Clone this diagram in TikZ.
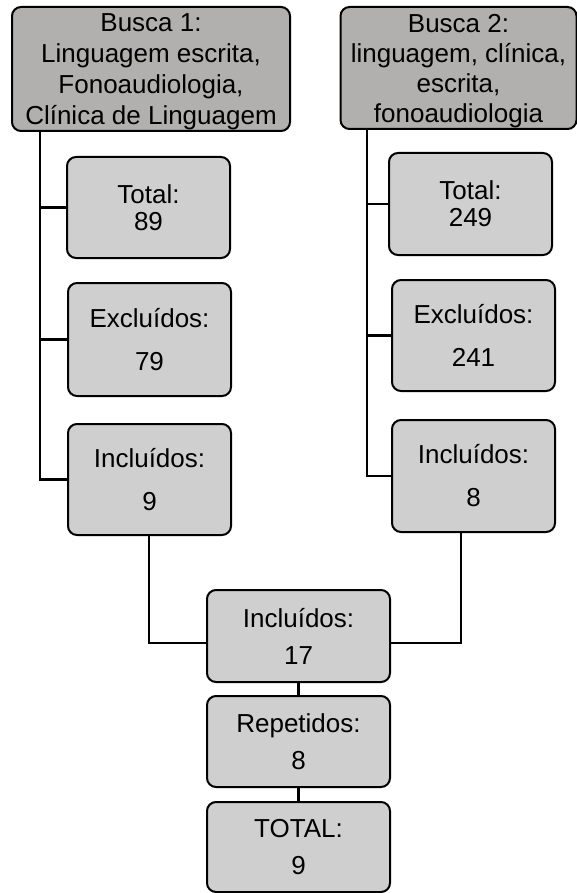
\documentclass[tikz,border=0pt]{standalone}
\usepackage{fontspec}
\setmainfont{Liberation Sans}
\usetikzlibrary{positioning,calc}
\definecolor{headgray}{RGB}{178,175,175}
\definecolor{boxgray}{RGB}{208,207,207}

\begin{document}
\begin{tikzpicture}[x=1pt, y=-1pt,
  every node/.style={font=\fontsize{26}{31}\selectfont},
  head/.style={draw, rounded corners=9pt, line width=2pt, fill=headgray,
               align=center, inner sep=0pt, text depth=-8pt},
  box/.style ={draw, rounded corners=9pt, line width=2pt, fill=boxgray,
               align=center, inner sep=0pt, minimum width=163pt},
  conn/.style={line width=2.3pt}
]
\useasboundingbox (0,0) rectangle (577,893);

% search headers
\node[head, minimum width=278pt, minimum height=124pt] (b1) at (151,69)
  {Busca 1:\\Linguagem escrita,\\Fonoaudiologia,\\Clínica de Linguagem};
\node[head, minimum width=236pt, minimum height=122pt,
      font=\fontsize{26}{30}\selectfont] (b2) at (458.5,68)
  {Busca 2:\\linguagem, clínica,\\escrita,\\fonoaudiologia};

% left column
\node[box, minimum height=101pt] (t1) at (148.5,207.5) {Total:\\[-4pt]89};
\node[box, minimum height=113pt] (e1) at (149.5,339.5) {Excluídos:\\[12pt]79};
\node[box, minimum height=111pt] (i1) at (149.5,479.5) {Incluídos:\\[12pt]9};

% right column
\node[box, minimum height=102pt] (t2) at (470.5,204) {Total:\\[-4pt]249};
\node[box, minimum height=111pt] (e2) at (473.5,335.5) {Excluídos:\\[12pt]241};
\node[box, minimum height=112pt] (i2) at (473.5,476) {Incluídos:\\[12pt]8};

% merged result
\node[box, minimum width=183pt, minimum height=92pt] (i17) at (298.5,636)
  {Incluídos:\\[6pt]17};
\node[box, minimum width=183pt, minimum height=91pt] (rep) at (298.5,741.5)
  {Repetidos:\\[6pt]8};
\node[box, minimum width=183pt, minimum height=90pt] (tot) at (298.5,847)
  {TOTAL:\\[6pt]9};

% spines
\coordinate (sp1) at (40,0);
\coordinate (sp2) at (367,0);
\draw[conn] (b1.south -| sp1) |- (i1.west);
\draw[conn] (b2.south -| sp2) |- (i2.west);
\foreach \n in {t1, e1}
  \draw[conn] (sp1 |- \n.west) -- (\n.west);
\foreach \n in {t2, e2}
  \draw[conn] (sp2 |- \n.west) -- (\n.west);

% joins into the merged box
\coordinate (j1) at (149,643);
\coordinate (j2) at (461,643);
\draw[conn] (i1.south -| j1) |- (i17.west |- j1);
\draw[conn] (i2.south -| j2) |- (i17.east |- j2);
\draw[conn] (i17.south) -- (rep.north);
\draw[conn] (rep.south) -- (tot.north);
\end{tikzpicture}
\end{document}
